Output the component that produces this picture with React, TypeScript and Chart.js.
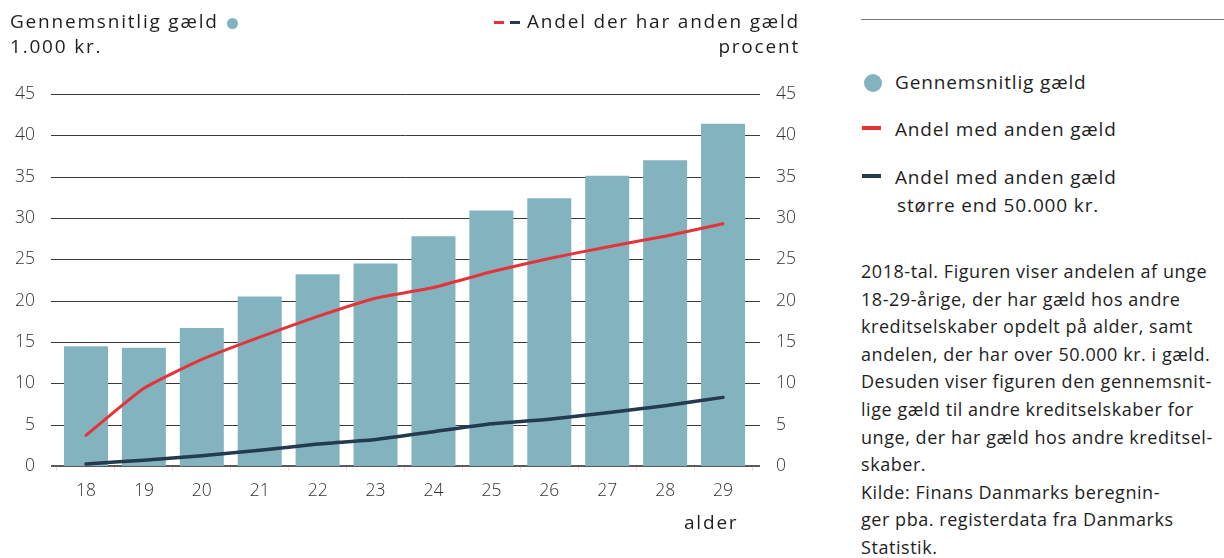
import React, { useEffect, useRef } from "react";
import { Chart, registerables } from "chart.js";

Chart.register(...registerables);

const ages = ["18", "19", "20", "21", "22", "23", "24", "25", "26", "27", "28", "29"];
const avgDebt = [14.5, 14.3, 16.7, 20.5, 23.2, 24.5, 27.8, 30.9, 32.4, 35.1, 37.0, 41.4];
const shareOtherDebt = [3.7, 9.4, 12.9, 15.6, 18.1, 20.3, 21.6, 23.5, 25.1, 26.5, 27.8, 29.3];
const shareOver50k = [0.25, 0.7, 1.25, 1.9, 2.65, 3.2, 4.15, 5.1, 5.65, 6.45, 7.3, 8.3];
const yTickValues = [0, 5, 10, 15, 20, 25, 30, 35, 40, 45];

const noteLines = [
  "2018-tal. Figuren viser andelen af unge",
  "18-29-årige, der har gæld hos andre",
  "kreditselskaber opdelt på alder, samt",
  "andelen, der har over 50.000 kr. i gæld.",
  "Desuden viser figuren den gennemsnit-",
  "lige gæld til andre kreditselskaber for",
  "unge, der har gæld hos andre kreditsel-",
  "skaber.",
  "Kilde: Finans Danmarks beregnin-",
  "ger pba. registerdata fra Danmarks",
  "Statistik.",
];

const BAR = "#82b3bf";
const RED = "#e5333a";
const NAVY = "#233a4f";
const FONT = "'Open Sans', 'Noto Sans', sans-serif";
const TEXT = "#1e1e1e";

const gridPlugin = {
  id: "customGrid",
  beforeDatasetsDraw(chart: any) {
    const { ctx, chartArea } = chart;
    const y = chart.scales.y;
    ctx.save();
    yTickValues.forEach((v) => {
      const py = Math.round(y.getPixelForValue(v));
      ctx.beginPath();
      if (v === 0) {
        ctx.strokeStyle = "#5a5a5a";
        ctx.lineWidth = 2;
        ctx.moveTo(chartArea.left - 6, py);
        ctx.lineTo(chartArea.right + 8, py);
      } else {
        ctx.strokeStyle = "#3a3a3a";
        ctx.lineWidth = 1;
        ctx.moveTo(chartArea.left - 6, py + 0.5);
        ctx.lineTo(chartArea.right + 8, py + 0.5);
      }
      ctx.stroke();
    });
    ctx.restore();
  },
};

export default function App() {
  const ref = useRef<HTMLCanvasElement | null>(null);

  useEffect(() => {
    if (!ref.current) return;
    const tickFont = { family: FONT, size: 17.5, weight: "300" as any };
    const chart = new Chart(ref.current, {
      type: "bar",
      data: {
        labels: ages,
        datasets: [
          {
            type: "line",
            label: "Andel med anden gæld",
            data: shareOtherDebt,
            yAxisID: "y2",
            borderColor: RED,
            borderWidth: 3,
            pointRadius: 0,
            tension: 0.15,
            borderCapStyle: "round",
            order: 1,
          } as any,
          {
            type: "line",
            label: "Andel med anden gæld større end 50.000 kr.",
            data: shareOver50k,
            yAxisID: "y2",
            borderColor: NAVY,
            borderWidth: 3.5,
            pointRadius: 0,
            tension: 0.15,
            borderCapStyle: "round",
            order: 0,
          } as any,
          {
            type: "bar",
            label: "Gennemsnitlig gæld",
            data: avgDebt,
            yAxisID: "y",
            backgroundColor: BAR,
            borderWidth: 0,
            categoryPercentage: 1,
            barPercentage: 0.76,
            order: 2,
          },
        ],
      },
      options: {
        responsive: false,
        animation: false,
        layout: { padding: { top: 94, bottom: 0, left: 0, right: 0 } },
        plugins: { legend: { display: false }, tooltip: { enabled: false } },
        scales: {
          x: {
            type: "category",
            offset: true,
            grid: {
              display: true,
              drawOnChartArea: false,
              drawTicks: true,
              tickLength: 5,
              color: "#e2e2e2",
              offset: true,
            },
            border: { display: false },
            ticks: { font: tickFont, color: "#333", padding: 10 },
            afterFit: (s: any) => {
              s.height = 92;
            },
          },
          y: {
            position: "left",
            min: 0,
            max: 45,
            ticks: {
              stepSize: 5,
              font: tickFont,
              color: "#333",
              padding: 22,
            },
            grid: { display: false, drawTicks: false },
            border: { display: false },
            afterFit: (s: any) => {
              s.width = 57;
            },
          },
          y2: {
            position: "right",
            min: 0,
            max: 45,
            ticks: {
              stepSize: 5,
              font: tickFont,
              color: "#333",
              padding: 24,
            },
            grid: { display: false, drawTicks: false },
            border: { display: false },
            afterFit: (s: any) => {
              s.width = 78;
            },
          },
        },
      },
      plugins: [gridPlugin],
    });
    return () => chart.destroy();
  }, []);

  const abs = (style: React.CSSProperties): React.CSSProperties => ({
    position: "absolute",
    whiteSpace: "nowrap",
    fontFamily: FONT,
    color: TEXT,
    ...style,
  });

  const head: React.CSSProperties = { fontSize: 19, lineHeight: "24px", letterSpacing: 1.8 };
  const leg: React.CSSProperties = { fontSize: 19, lineHeight: "24px", letterSpacing: 0.85 };

  return (
    <div
      style={{
        position: "absolute",
        left: 0,
        top: 0,
        width: 1224,
        height: 558,
        background: "#fff",
        overflow: "hidden",
      }}
    >
      <canvas
        ref={ref}
        width={830}
        height={558}
        style={{ position: "absolute", left: 0, top: 0, width: 830, height: 558, display: "block" }}
      />

      {/* Left axis header */}
      <div style={abs({ left: 10, top: 9, ...head })}>
        Gennemsnitlig gæld
        <span
          style={{
            display: "inline-block",
            width: 11,
            height: 11,
            borderRadius: 6,
            background: BAR,
            marginLeft: 8,
            verticalAlign: "-1px",
          }}
        />
      </div>
      <div style={abs({ left: 10, top: 34, ...head })}>1.000 kr.</div>

      {/* Right axis header */}
      <div style={abs({ right: 1224 - 800, top: 9, ...head })}>
        <span
          style={{
            display: "inline-block",
            width: 10,
            height: 3,
            background: RED,
            marginRight: 6,
            verticalAlign: "middle",
          }}
        />
        <span
          style={{
            display: "inline-block",
            width: 10,
            height: 3,
            background: NAVY,
            marginRight: 7,
            verticalAlign: "middle",
          }}
        />
        Andel der har anden gæld
      </div>
      <div style={abs({ right: 1224 - 800, top: 34, ...head })}>procent</div>

      {/* x axis title */}
      <div style={abs({ left: 684, top: 510, ...head })}>alder</div>

      {/* Right panel */}
      <div style={{ position: "absolute", left: 861, top: 19, width: 363, height: 1, background: "#777" }} />

      <div
        style={{
          position: "absolute",
          left: 864,
          top: 74,
          width: 18,
          height: 18,
          borderRadius: 9,
          background: BAR,
        }}
      />
      <div style={abs({ left: 895, top: 70, ...leg })}>Gennemsnitlig gæld</div>

      <div style={{ position: "absolute", left: 862, top: 126, width: 19, height: 4, background: RED }} />
      <div style={abs({ left: 895, top: 117, ...leg })}>Andel med anden gæld</div>

      <div style={{ position: "absolute", left: 862, top: 174, width: 19, height: 4, background: NAVY }} />
      <div style={abs({ left: 895, top: 165, ...leg })}>Andel med anden gæld</div>
      <div style={abs({ left: 897, top: 193, ...leg })}>større end 50.000 kr.</div>

      <div style={abs({ left: 861, top: 258, fontSize: 18, lineHeight: "27.6px", letterSpacing: 0.55 })}>
        {noteLines.map((l, i) => (
          <div key={i}>{l}</div>
        ))}
      </div>
    </div>
  );
}
